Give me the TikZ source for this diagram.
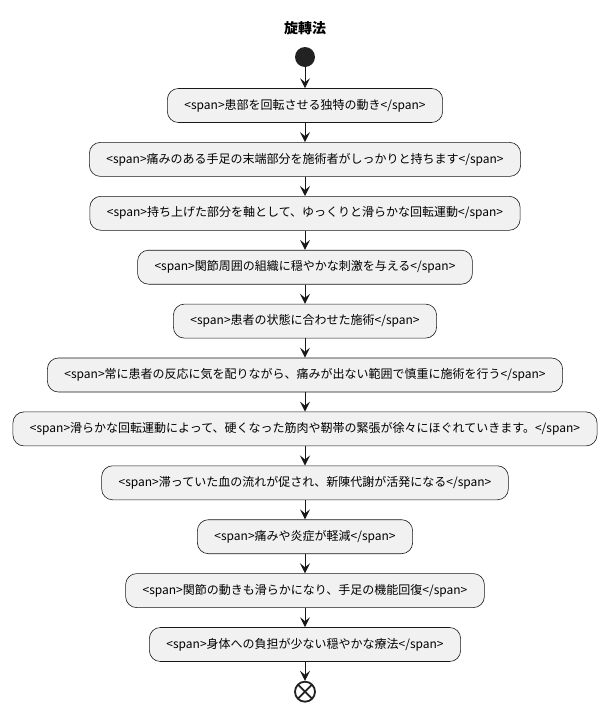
\documentclass[tikz,border=0pt]{standalone}
\usepackage{fontspec}
\setmainfont{Noto Sans CJK JP}
\usepackage{tikz}
\usetikzlibrary{positioning,arrows.meta}
\definecolor{actfill}{HTML}{F1F1F1}
\definecolor{actline}{HTML}{181818}
\definecolor{startc}{HTML}{222222}
\tikzset{
  act/.style={draw=actline, fill=actfill, rounded corners=11pt, line width=0.6pt,
              font=\fontsize{12}{14}\selectfont, minimum height=34pt, inner xsep=17pt},
  arr/.style={-{Stealth[length=10pt, width=10pt, inset=4pt]}, draw=actline, line width=1pt},
  startnode/.style={circle, fill=startc, minimum size=20pt, inner sep=0pt},
  endnode/.style={circle, draw=startc, line width=1.8pt, minimum size=20pt, inner sep=0pt,
                  path picture={\draw[startc, line width=1.8pt]
                    (path picture bounding box.south west) -- (path picture bounding box.north east)
                    (path picture bounding box.north west) -- (path picture bounding box.south east);}},
}

\begin{document}
\begin{tikzpicture}[x=1pt, y=1pt, node distance=19.3pt]
  \useasboundingbox (0,0) rectangle (610,-710);
  \node[font=\fontsize{14}{16}\selectfont\bfseries] (title) at (305,-28) {旋轉法};
  \node[startnode] (start) at (305,-57) {};
  \node[act, below=21pt of start] (a1) {<span>患部を回転させる独特の動き</span>};
  \node[act, below=of a1] (a2) {<span>痛みのある手足の末端部分を施術者がしっかりと持ちます</span>};
  \node[act, below=of a2] (a3) {<span>持ち上げた部分を軸として、ゆっくりと滑らかな回転運動</span>};
  \node[act, below=of a3] (a4) {<span>関節周囲の組織に穏やかな刺激を与える</span>};
  \node[act, below=of a4] (a5) {<span>患者の状態に合わせた施術</span>};
  \node[act, below=of a5] (a6) {<span>常に患者の反応に気を配りながら、痛みが出ない範囲で慎重に施術を行う</span>};
  \node[act, below=of a6] (a7) {<span>滑らかな回転運動によって、硬くなった筋肉や靭帯の緊張が徐々にほぐれていきます。</span>};
  \node[act, below=of a7] (a8) {<span>滞っていた血の流れが促され、新陳代謝が活発になる</span>};
  \node[act, below=of a8] (a9) {<span>痛みや炎症が軽減</span>};
  \node[act, below=of a9] (a10) {<span>関節の動きも滑らかになり、手足の機能回復</span>};
  \node[act, below=of a10] (a11) {<span>身体への負担が少ない穏やかな療法</span>};
  \node[endnode, below=19pt of a11] (stop) {};
  \draw[arr] (start) -- (a1);
  \foreach \i [count=\j from 2] in {1,...,10}
    \draw[arr] (a\i) -- (a\j);
  \draw[arr] (a11) -- (stop);
\end{tikzpicture}
\end{document}
